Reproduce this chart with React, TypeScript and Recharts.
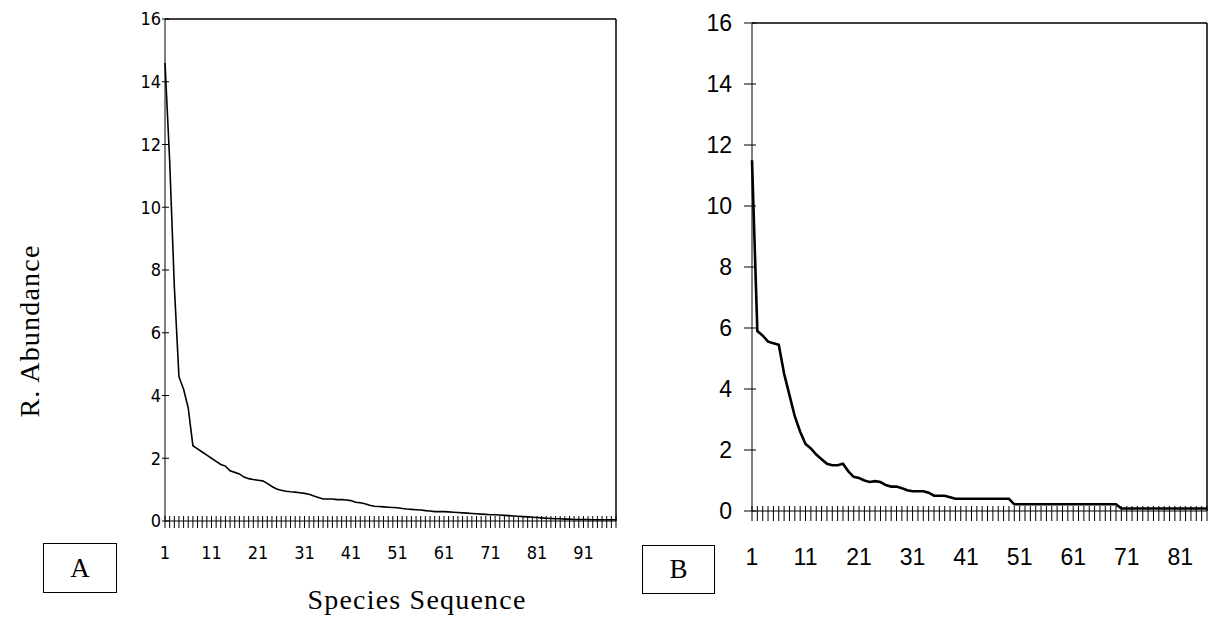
import React from 'react';
import { LineChart, Line, XAxis, YAxis, ReferenceLine } from 'recharts';

// Relative abundance by species rank
const abundanceA = [
  14.6, 11.5, 7.5, 4.6, 4.2, 3.6, 2.4, 2.3, 2.2, 2.1,
  2.0, 1.9, 1.8, 1.75, 1.6, 1.55, 1.5, 1.4, 1.35, 1.32,
  1.3, 1.28, 1.2, 1.1, 1.02, 0.98, 0.95, 0.93, 0.92, 0.9,
  0.88, 0.85, 0.8, 0.75, 0.7, 0.7, 0.7, 0.68, 0.68, 0.67,
  0.65, 0.6, 0.58, 0.55, 0.5, 0.47, 0.46, 0.45, 0.44, 0.43,
  0.42, 0.4, 0.38, 0.37, 0.36, 0.35, 0.33, 0.32, 0.3, 0.3,
  0.3, 0.29, 0.28, 0.27, 0.26, 0.25, 0.24, 0.23, 0.22, 0.21,
  0.2, 0.2, 0.19, 0.18, 0.17, 0.16, 0.15, 0.14, 0.13, 0.12,
  0.11, 0.1, 0.09, 0.08, 0.07, 0.07, 0.06, 0.06, 0.05, 0.05,
  0.05, 0.05, 0.04, 0.04, 0.04, 0.04, 0.04, 0.04
];

const abundanceB = [
  11.5, 5.9, 5.75, 5.55, 5.5, 5.45, 4.5, 3.8, 3.1, 2.6,
  2.2, 2.05, 1.85, 1.7, 1.55, 1.5, 1.5, 1.55, 1.3, 1.12,
  1.08, 1.0, 0.95, 0.98, 0.95, 0.85, 0.8, 0.8, 0.75, 0.68,
  0.65, 0.65, 0.65, 0.6, 0.5, 0.5, 0.5, 0.45, 0.4, 0.4,
  0.4, 0.4, 0.4, 0.4, 0.4, 0.4, 0.4, 0.4, 0.4, 0.22,
  0.22, 0.22, 0.22, 0.22, 0.22, 0.22, 0.22, 0.22, 0.22, 0.22,
  0.22, 0.22, 0.22, 0.22, 0.22, 0.22, 0.22, 0.22, 0.22, 0.08,
  0.08, 0.08, 0.08, 0.08, 0.08, 0.08, 0.08, 0.08, 0.08, 0.08,
  0.08, 0.08, 0.08, 0.08, 0.08, 0.08
];

const yTicks = [0, 2, 4, 6, 8, 10, 12, 14, 16];
const labelEvery = 10;

const rowsA = abundanceA.map((v, i) => ({ species: i + 1, value: v }));
const rowsB = abundanceB.map((v, i) => ({ species: i + 1, value: v }));

const narrow = "'Liberation Sans Narrow', 'DejaVu Sans Condensed', sans-serif";
const sans = "'Liberation Sans', Arial, sans-serif";
const serif = "'Liberation Serif', 'Times New Roman', serif";

function XTick(props: any) {
  const { x, y, payload, up, down, offset, font, size, last } = props;
  const v = payload.value;
  const showLabel = (v - 1) % labelEvery === 0 && v <= last;
  return (
    <g>
      <line x1={x} x2={x} y1={y - up} y2={y + down} stroke="#000" strokeWidth={1} />
      {showLabel && (
        <text x={x} y={y + offset} textAnchor="middle" fontFamily={font} fontSize={size} fill="#000">
          {v}
        </text>
      )}
    </g>
  );
}

function YTick(props: any) {
  const { x, y, payload, left, right, gap, font, size } = props;
  return (
    <g>
      <line x1={x - left} x2={x + right} y1={y} y2={y} stroke="#000" strokeWidth={1} />
      <text x={x - gap} y={y} dy="0.36em" textAnchor="end" fontFamily={font} fontSize={size} fill="#000">
        {payload.value}
      </text>
    </g>
  );
}

function Panel({ rows, width, margin, yWidth, last, font, size, xOffset, yGap, yLeft, strokeWidth, tickDown }: any) {
  const maxSpecies = rows.length;
  return (
    <LineChart width={width} height={621} data={rows} margin={margin}>
      <XAxis
        type="number"
        dataKey="species"
        domain={[1, maxSpecies]}
        ticks={rows.map((r: any) => r.species)}
        interval={0}
        height={60}
        tickSize={0}
        tickMargin={0}
        stroke="#000"
        tick={(p: any) => (
          <XTick {...p} up={5} down={tickDown} offset={xOffset} font={font} size={size} last={last} />
        )}
      />
      <YAxis
        type="number"
        domain={[0, 16]}
        ticks={yTicks}
        interval={0}
        width={yWidth}
        tickSize={0}
        tickMargin={0}
        stroke="#000"
        tick={(p: any) => (
          <YTick {...p} left={yLeft} right={4} gap={yGap} font={font} size={size} />
        )}
      />
      <ReferenceLine y={16} stroke="#000" strokeWidth={1.5} />
      <ReferenceLine x={maxSpecies} stroke="#000" strokeWidth={1.5} />
      <Line
        type="linear"
        dataKey="value"
        stroke="#000"
        strokeWidth={strokeWidth}
        dot={false}
        isAnimationActive={false}
      />
    </LineChart>
  );
}

const boxStyle: React.CSSProperties = {
  position: 'absolute',
  border: '1.5px solid #000',
  boxSizing: 'border-box',
  display: 'flex',
  alignItems: 'center',
  justifyContent: 'center',
  fontFamily: serif,
  fontSize: 27,
};

export default function App() {
  return (
    <div style={{ position: 'absolute', left: 0, top: 0, width: 1214, height: 621, background: '#fff', overflow: 'hidden' }}>
      <div style={{ position: 'absolute', left: 100, top: 0 }}>
        <Panel
          rows={rowsA}
          width={540}
          margin={{ top: 19, right: 24, bottom: 40, left: 25 }}
          yWidth={40}
          last={91}
          font={narrow}
          size={18}
          xOffset={38}
          yGap={4}
          yLeft={3}
          strokeWidth={1.6}
          tickDown={7}
        />
      </div>
      <div style={{ position: 'absolute', left: 640, top: 0 }}>
        <Panel
          rows={rowsB}
          width={574}
          margin={{ top: 23, right: 7, bottom: 50, left: 52 }}
          yWidth={60}
          last={81}
          font={sans}
          size={23}
          xOffset={54}
          yGap={20}
          yLeft={8}
          strokeWidth={2.6}
          tickDown={10}
        />
      </div>

      <div
        style={{
          position: 'absolute',
          left: 30,
          top: 331,
          transform: 'translate(-50%, -50%) rotate(-90deg)',
          whiteSpace: 'nowrap',
          fontFamily: serif,
          fontSize: 28,
          letterSpacing: 1.2,
        }}
      >
        R. Abundance
      </div>
      <div
        style={{
          position: 'absolute',
          left: 417,
          top: 600,
          transform: 'translate(-50%, -50%)',
          whiteSpace: 'nowrap',
          fontFamily: serif,
          fontSize: 28,
          letterSpacing: 1.2,
        }}
      >
        Species Sequence
      </div>

      <div style={{ ...boxStyle, left: 43, top: 543, width: 74, height: 50 }}>A</div>
      <div style={{ ...boxStyle, left: 642, top: 545, width: 73, height: 49 }}>B</div>
    </div>
  );
}
